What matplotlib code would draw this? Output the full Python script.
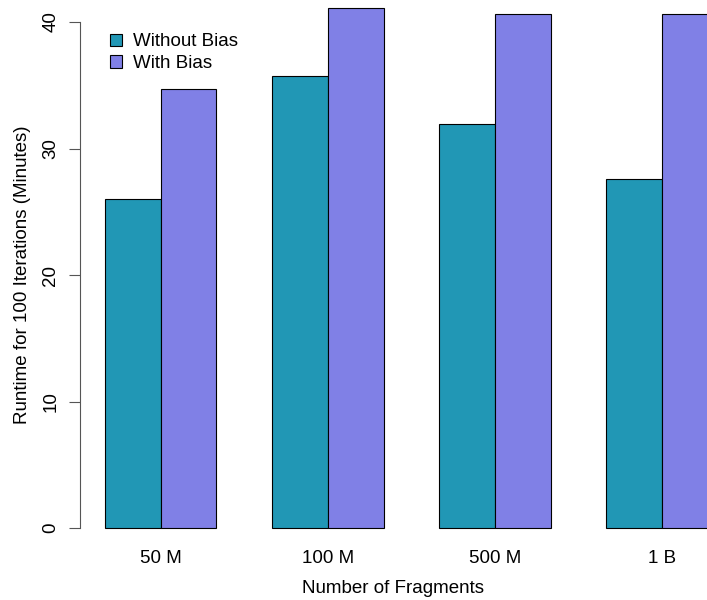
import numpy as np
import matplotlib
matplotlib.use('Agg')
from matplotlib import pyplot as plt

plt.rcParams['font.family'] = ['Liberation Sans', 'DejaVu Sans']

# 数据
categories = ['50 M', '100 M', '500 M', '1 B']
without_bias = [26.0, 35.7, 31.9, 27.6]
with_bias = [34.7, 41.1, 40.6, 40.6]
series_names = ['Without Bias', 'With Bias']
y_ticks = [0, 10, 20, 30, 40]

col_without = '#2197b5'
col_with = '#8080e6'
fs = 13.5

fig = plt.figure(figsize=(7.07, 6.0), dpi=100)
ax = fig.add_axes([80 / 707, 51 / 600, 1 - 80 / 707, 549 / 600])

# R风格的分组柱状图: 每组两根柱, 组间空一根柱宽
n = len(categories)
left = 1 + 3 * np.arange(n)
ax.bar(left, without_bias, width=1, align='edge', color=col_without,
       edgecolor='black', linewidth=0.8, label=series_names[0])
ax.bar(left + 1, with_bias, width=1, align='edge', color=col_with,
       edgecolor='black', linewidth=0.8, label=series_names[1])

ax.set_xlim(0.551, 1 + (707 - 105) / 55.7)
ax.set_ylim((528 - 549) / 12.65, 528 / 12.65)

for s in ['top', 'right', 'bottom']:
    ax.spines[s].set_visible(False)
ax.spines['left'].set_bounds(0, 40)
ax.spines['left'].set_color('#555555')
ax.set_yticks(y_ticks)
ax.set_yticklabels([str(v) for v in y_ticks], rotation=90, va='center', fontsize=fs)
ax.tick_params(axis='y', length=8, color='#555555', pad=7)

ax.set_xticks(left + 1)
ax.set_xticklabels(categories, fontsize=fs)
ax.tick_params(axis='x', length=0, pad=1)

ax.set_xlabel('Number of Fragments', fontsize=fs, labelpad=9)
ax.set_ylabel('Runtime for 100 Iterations (Minutes)', fontsize=fs, labelpad=8)

ax.legend(loc='upper left', bbox_to_anchor=(0.012, 0.98), frameon=False, fontsize=fs,
          handlelength=0.65, handleheight=0.65, handletextpad=0.6, labelspacing=0.25,
          borderaxespad=0.8)

fig.savefig('out.png', dpi=100)
